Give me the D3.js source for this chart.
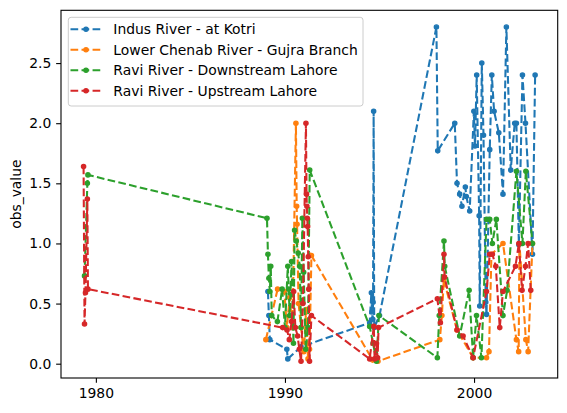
<!DOCTYPE html>
<html>
<head>
<meta charset="utf-8">
<script src="https://cdn.jsdelivr.net/npm/d3@7"></script>
<style>
  html, body { margin: 0; padding: 0; background: #fff; }
  svg { display: block; font-family: "DejaVu Sans", sans-serif; }
</style>
</head>
<body>
<svg id="chart" width="567" height="413"></svg>
<script>
// ---- data (year, obs_value) ----
const seriesNames = ["Indus River - at Kotri", "Lower Chenab River - Gujra Branch", "Ravi River - Downstream Lahore", "Ravi River - Upstream Lahore"];
const seriesColors = ["#1f77b4", "#ff7f0e", "#2ca02c", "#d62728"];

const indus = [
  [1989.10,0.60],[1989.15,0.40],[1989.20,0.20],[1990.10,0.12],[1990.15,0.04],[1990.85,0.14],
  [1994.48,0.34],[1994.57,0.59],[1994.60,0.43],[1994.64,0.37],[1994.66,0.51],[1994.69,2.10],[1994.72,0.30],[1995.00,0.40],
  [1998.01,2.80],[1998.08,1.77],[1998.98,2.00],[1999.10,1.50],[1999.24,1.41],[1999.36,1.31],[1999.54,1.47],[1999.59,1.39],[1999.77,1.27],
  [1999.99,2.10],[2000.05,1.81],[2000.14,2.40],[2000.27,1.23],[2000.30,0.48],[2000.41,2.50],[2000.50,1.90],[2000.62,0.51],[2000.66,0.41],
  [2000.83,1.78],[2000.94,2.40],[2001.06,2.10],[2001.31,1.92],[2001.53,1.41],[2001.71,2.80],[2001.94,1.61],[2002.15,2.00],[2002.24,2.00],
  [2002.37,0.99],[2002.56,2.40],[2002.72,2.00],[2003.09,0.91],[2003.23,2.40]
];
const chenab = [
  [1988.99,0.20],[1989.61,0.62],[1989.97,0.60],[1990.10,0.30],[1990.25,0.55],[1990.40,0.30],[1990.58,2.00],[1990.62,1.31],[1990.64,1.16],
  [1990.72,0.50],[1990.85,0.30],[1991.00,0.10],[1991.12,0.45],[1991.22,0.04],[1991.30,0.12],[1991.40,0.90],
  [1994.64,0.03],[1994.92,0.02],[1998.19,0.20],[1998.30,0.40],[1998.40,0.70],[1999.10,0.28],[1999.95,0.05],
  [2000.66,0.05],[2000.79,0.10],[2000.92,0.91],[2001.53,1.00],[2002.24,0.20],[2002.36,0.10],[2002.40,1.00],[2002.74,0.20],[2002.86,0.10],[2003.09,1.00]
];
const raviDown = [
  [1979.40,0.73],[1979.55,1.50],[1979.58,1.57],
  [1989.05,1.21],[1989.10,0.91],[1989.15,0.71],[1989.20,0.60],[1989.25,0.81],[1989.30,0.40],[1989.60,0.35],[1989.85,0.62],[1990.00,0.30],
  [1990.15,0.81],[1990.20,0.62],[1990.25,0.40],[1990.35,0.85],[1990.45,0.17],[1990.51,1.11],[1990.60,1.02],[1990.70,0.92],[1990.78,0.81],
  [1990.85,0.30],[1990.92,1.21],[1990.99,0.76],[1991.10,0.12],[1991.22,0.30],[1991.31,1.61],
  [1994.48,0.31],[1994.66,0.17],[1994.84,0.02],[1994.97,0.40],
  [1998.06,0.05],[1998.16,0.40],[1998.41,1.02],[1998.45,0.81],[1999.24,0.23],[1999.74,0.61],[1999.95,0.05],[2000.13,0.40],[2000.39,0.05],
  [2000.66,1.20],[2000.83,1.20],[2000.97,1.00],[2001.18,1.20],[2001.53,0.40],[2001.75,0.61],[2002.24,1.60],[2002.56,1.00],[2002.74,1.60],[2003.09,1.00]
];
const raviUp = [
  [1979.35,1.64],[1979.40,0.33],[1979.45,0.59],[1979.55,1.37],[1979.58,0.62],
  [1989.88,0.30],[1990.11,0.28],[1990.23,0.20],[1990.35,0.35],[1990.46,0.60],[1990.55,0.30],[1990.67,0.23],[1990.76,0.12],[1990.85,0.02],
  [1990.95,0.50],[1991.11,2.00],[1991.14,1.41],[1991.16,1.31],[1991.18,1.21],[1991.20,1.14],[1991.23,0.89],[1991.26,0.62],[1991.30,0.02],[1991.40,0.40],
  [1994.48,0.04],[1994.70,0.31],[1994.74,0.04],[1994.84,0.17],[1994.90,0.05],[1994.95,0.30],
  [1998.06,0.54],[1998.22,0.34],[1998.41,0.91],[1998.44,0.72],[1999.10,0.28],[1999.42,0.23],[1999.95,0.05],
  [2000.66,0.60],[2000.83,0.91],[2000.97,0.91],[2001.15,0.81],[2001.36,0.30],[2001.53,0.60],[2002.19,0.81],[2002.37,1.00],
  [2002.54,0.61],[2002.72,0.81],[2002.86,1.00],[2003.00,0.61]
];
const seriesData = [indus, chenab, raviDown, raviUp];
const xTicks = [1980, 1990, 2000];
const yTicks = [0.0, 0.5, 1.0, 1.5, 2.0, 2.5];
const yLabel = "obs_value";

// ---- layout ----
const W = 567, H = 413;
const plot = { left: 61, right: 557.7, top: 10.3, bottom: 378 };
const FS = 13.9;
const LW = 2.08, DASH = "7.7,3.33";
const svg = d3.select("#chart");

const all = seriesData.flat();
const [x0, x1] = d3.extent(all, d => d[0]);
const [y0, y1] = d3.extent(all, d => d[1]);
const px = (x1 - x0) * 0.05, py = (y1 - y0) * 0.05;
const x = d3.scaleLinear().domain([x0 - px, x1 + px]).range([plot.left, plot.right]);
const y = d3.scaleLinear().domain([y0 - py, y1 + py]).range([plot.bottom, plot.top]);

// series
const line = d3.line().x(d => x(d[0])).y(d => y(d[1]));
const gS = svg.append("g");
seriesData.forEach((data, i) => {
  const g = gS.append("g");
  g.append("path").datum(data)
    .attr("d", line).attr("fill", "none")
    .attr("stroke", seriesColors[i]).attr("stroke-width", LW)
    .attr("stroke-dasharray", DASH);
  g.selectAll("circle").data(data).enter().append("circle")
    .attr("cx", d => x(d[0])).attr("cy", d => y(d[1]))
    .attr("r", 2.1).attr("fill", seriesColors[i])
    .attr("stroke", seriesColors[i]).attr("stroke-width", 1.39);
});

// axes
const xAxis = d3.axisBottom(x).tickValues(xTicks).tickFormat(d3.format("d")).tickSize(4.86).tickPadding(4.86);
const yAxis = d3.axisLeft(y).tickValues(yTicks).tickFormat(d3.format(".1f")).tickSize(4.86).tickPadding(4.86);
const gx = svg.append("g").attr("transform", `translate(0,${plot.bottom})`).call(xAxis);
const gy = svg.append("g").attr("transform", `translate(${plot.left},0)`).call(yAxis);
[gx, gy].forEach(g => {
  g.select(".domain").remove();
  g.selectAll(".tick line").attr("stroke", "#000").attr("stroke-width", 1.1);
  g.selectAll(".tick text").attr("fill", "#000").style("font-size", FS + "px").style("font-family", "DejaVu Sans");
});

// frame
svg.append("rect").attr("x", plot.left).attr("y", plot.top)
  .attr("width", plot.right - plot.left).attr("height", plot.bottom - plot.top)
  .attr("fill", "none").attr("stroke", "#000").attr("stroke-width", 1.1);

// y label
svg.append("text").attr("transform", `translate(21,${(plot.top + plot.bottom) / 2}) rotate(-90)`)
  .attr("text-anchor", "middle").style("font-size", FS + "px").attr("fill", "#000").text(yLabel);

// legend
const lg = svg.append("g");
lg.append("rect").attr("x", 68.3).attr("y", 17.3).attr("width", 294.7).attr("height", 88.7)
  .attr("rx", 2.8).attr("fill", "#fff").attr("fill-opacity", 0.8)
  .attr("stroke", "#cccccc").attr("stroke-width", 1);
seriesNames.forEach((name, i) => {
  const cy = 29.3 + i * 20.5;
  lg.append("line").attr("x1", 70.5).attr("x2", 101.5).attr("y1", cy).attr("y2", cy)
    .attr("stroke", seriesColors[i]).attr("stroke-width", LW).attr("stroke-dasharray", DASH);
  lg.append("circle").attr("cx", 86).attr("cy", cy).attr("r", 2.1)
    .attr("fill", seriesColors[i]).attr("stroke", seriesColors[i]).attr("stroke-width", 1.39);
  lg.append("text").attr("x", 113.3).attr("y", cy).attr("dy", "0.36em")
    .style("font-size", FS + "px").attr("fill", "#000").text(name);
});
</script>
</body>
</html>
